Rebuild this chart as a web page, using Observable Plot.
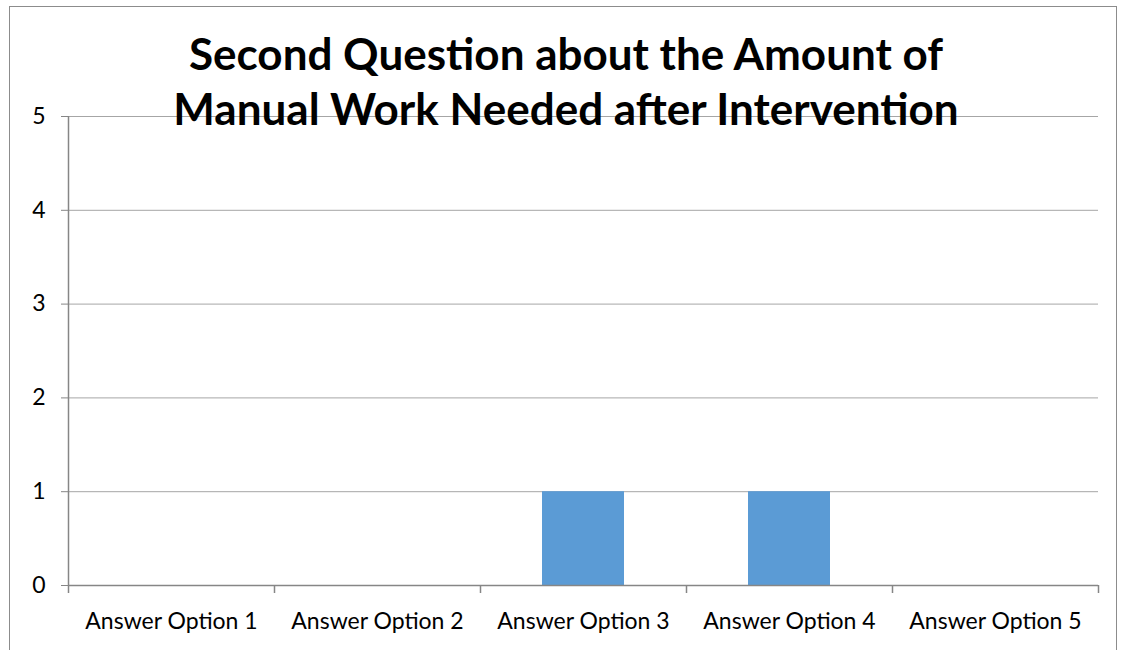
<!DOCTYPE html>
<html>
<head>
<meta charset="utf-8">
<script src="https://cdn.jsdelivr.net/npm/d3@7"></script>
<script src="https://cdn.jsdelivr.net/npm/@observablehq/plot@0.6"></script>
<style>
  html, body { margin: 0; padding: 0; background: #fff; }
  #wrap { position: relative; width: 1121px; height: 650px; overflow: hidden; }
  #border { position: absolute; left: 9px; top: 6px; width: 1108px; height: 700px; border: 1px solid #8c8c8c; box-sizing: border-box; pointer-events: none; }
  #title { position: absolute; left: 0; width: 1132px; top: 26px; text-align: center; font-family: Lato, "Open Sans", sans-serif; font-weight: bold; font-size: 44px; line-height: 55px; color: #000; white-space: nowrap; }
  svg { position: absolute; left: 0; top: 0; }
  svg text { font-family: Lato, "Open Sans", sans-serif; }
</style>
</head>
<body>
<div id="wrap">
  <div id="border"></div>
  <div id="chart"></div>
  <div id="title">Second Question about the Amount of<br>Manual Work Needed after Intervention</div>
</div>
<script>
const categories = ["Answer Option 1", "Answer Option 2", "Answer Option 3", "Answer Option 4", "Answer Option 5"];
const values = [0, 0, 1, 1, 0];
const yTicks = [0, 1, 2, 3, 4, 5];

const data = categories.map((c, i) => ({category: c, value: values[i]}));
const step = 206;

const chart = Plot.plot({
  width: 1121,
  height: 650,
  marginLeft: 68,
  marginRight: 23,
  marginTop: 116,
  marginBottom: 65,
  style: {fontFamily: "Lato, 'Open Sans', sans-serif", fontSize: "23px", color: "#000", background: "transparent"},
  x: {domain: categories, paddingInner: 0.6, paddingOuter: 0.3, label: null},
  y: {domain: [0, 5], label: null},
  marks: [
    Plot.gridY(yTicks, {stroke: "#a6a6a6", strokeOpacity: 1, strokeWidth: 1}),
    Plot.barY(data, {x: "category", y: "value", fill: "#5B9BD5"}),
    Plot.ruleY([0], {stroke: "#868686", strokeWidth: 1.5}),
    Plot.ruleX([categories[0]], {stroke: "#868686", strokeWidth: 1.5, dx: -step / 2, y1: 0, y2: 5}),
    Plot.axisY(yTicks, {tickSize: 7, tickPadding: 16, stroke: "#868686", fill: "#000", fontSize: 23, tickFormat: "d"}),
    Plot.axisX({tickSize: 0, tickPadding: 27, fill: "#000", fontSize: 23}),
    Plot.axisX(categories, {tickSize: 8, dx: -step / 2, tickFormat: () => "", stroke: "#868686", strokeWidth: 1.5}),
    Plot.axisX([categories[4]], {tickSize: 8, dx: step / 2, tickFormat: () => "", stroke: "#868686", strokeWidth: 1.5}),
  ]
});
document.getElementById("chart").appendChild(chart);
</script>
</body>
</html>
